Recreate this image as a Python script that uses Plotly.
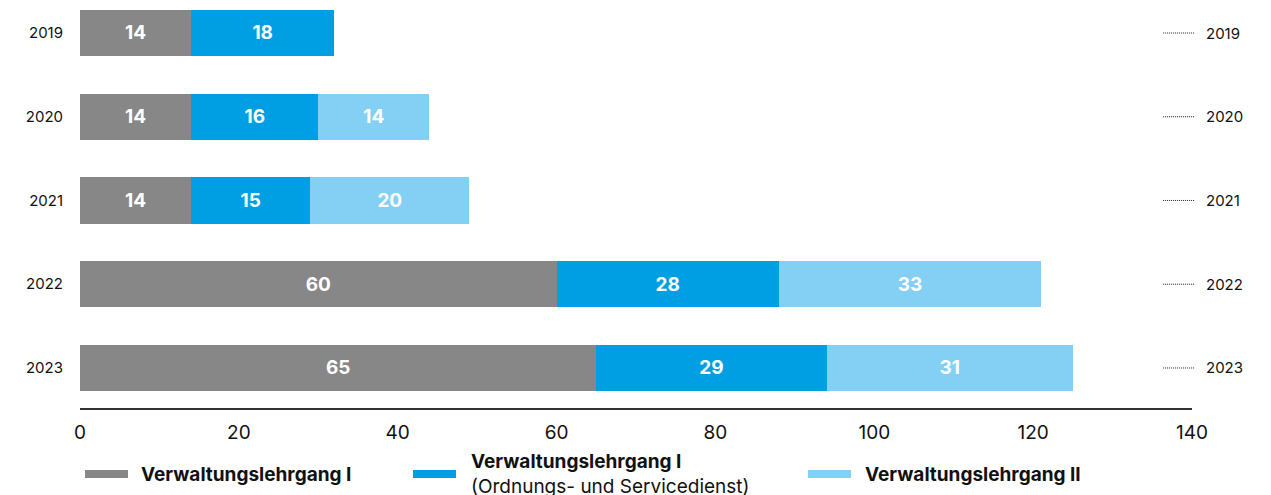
import plotly.graph_objects as go

# ----- DATA -----
years = ["2019", "2020", "2021", "2022", "2023"]
vlg1 = [14, 14, 14, 60, 65]
vlg1_osd = [18, 16, 15, 28, 29]
vlg2 = [None, 14, 20, 33, 31]
series_names = ["Verwaltungslehrgang I",
                "Verwaltungslehrgang I<br>(Ordnungs- und Servicedienst)",
                "Verwaltungslehrgang II"]
x_ticks = [0, 20, 40, 60, 80, 100, 120, 140]
# ----------------

GRAY = "#878787"
BLUE = "#009FE3"
LIGHT = "#84D0F5"
FONT = "Inter"

fig = go.Figure()
for vals, color, name in zip([vlg1, vlg1_osd, vlg2], [GRAY, BLUE, LIGHT], series_names):
    fig.add_trace(go.Bar(
        y=years, x=vals, orientation="h", name=name,
        marker=dict(color=color, line=dict(width=0)),
        text=[None if v is None else str(v) for v in vals],
        textposition="inside", insidetextanchor="middle",
        textfont=dict(color="white", size=19, family=FONT, weight=700),
        width=0.55, showlegend=False,
    ))

# dotted markers + year labels on the right (category index positions)
for i, yr in enumerate(years):
    fig.add_shape(type="line", xref="paper", yref="y", x0=0.974, x1=1.0027,
                  y0=i, y1=i, line=dict(color="#222", width=1, dash="1px,1px"))
    fig.add_annotation(xref="paper", yref="y", x=1.0108, y=i, text=yr,
                       showarrow=False, xanchor="left",
                       font=dict(size=15, color="#111", family=FONT))

# manual legend
legend_items = [(85, 128, 139, GRAY, "<b>Verwaltungslehrgang I</b>"),
                (413, 456, 469, BLUE, "<b>Verwaltungslehrgang I</b><br>(Ordnungs- und Servicedienst)"),
                (808, 851, 863, LIGHT, "<b>Verwaltungslehrgang II</b>")]
L, W, PH = 80, 1112, 408
for x0, x1, tx, color, label in legend_items:
    fig.add_shape(type="rect", xref="paper", yref="paper",
                  x0=(x0 - L) / W, x1=(x1 - L) / W,
                  y0=(PH - 478) / PH, y1=(PH - 470) / PH,
                  fillcolor=color, line=dict(width=0))
    fig.add_annotation(xref="paper", yref="paper", x=(tx - L) / W, y=(PH - 474) / PH,
                       text=label, showarrow=False, xanchor="left", yanchor="middle",
                       align="left", font=dict(size=19, color="#111", family=FONT))

fig.update_layout(
    barmode="stack",
    width=1271, height=495,
    margin=dict(l=80, r=79, t=0, b=87),
    paper_bgcolor="white", plot_bgcolor="white",
    font=dict(family=FONT, color="#111"),
    xaxis=dict(range=[0, 140], tickvals=x_ticks, showgrid=False, zeroline=False,
               showline=True, linecolor="#333", linewidth=2,
               ticks="", ticklabelstandoff=6,
               tickfont=dict(size=19, color="#111", family=FONT)),
    yaxis=dict(type="category", range=[4.478, -0.394], showgrid=False,
               showline=False, ticks="", ticklabelstandoff=16,
               tickfont=dict(size=15, color="#111", family=FONT)),
)

fig.write_html("out.html", config={"displayModeBar": False},
               post_script="document.body.style.margin='0';")
